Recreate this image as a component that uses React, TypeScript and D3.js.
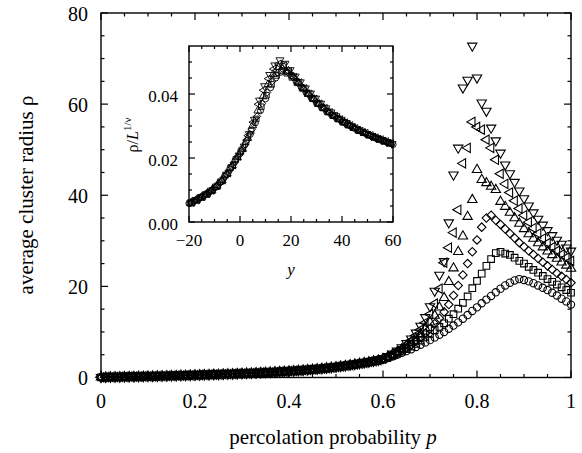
import React from 'react';
import * as d3 from 'd3';

// ---------- data ----------
// main plot: p grid 0.00 .. 1.00 step 0.01
const P_VALUES = d3.range(0, 101).map((i) => i / 100);

// shared low-p part (p = 0.00 .. 0.59), all system sizes coincide
const RHO_LOW = [
  0.05, 0.07, 0.09, 0.11, 0.13, 0.15, 0.17, 0.19, 0.21, 0.23,
  0.25, 0.27, 0.30, 0.32, 0.35, 0.37, 0.40, 0.43, 0.46, 0.49,
  0.52, 0.55, 0.58, 0.61, 0.65, 0.68, 0.72, 0.75, 0.79, 0.83,
  0.87, 0.91, 0.95, 1.00, 1.04, 1.09, 1.14, 1.20, 1.25, 1.31,
  1.38, 1.45, 1.52, 1.60, 1.68, 1.77, 1.86, 1.96, 2.07, 2.19,
  2.32, 2.45, 2.59, 2.74, 2.90, 3.06, 3.23, 3.41, 3.60, 3.80,
];

// p = 0.60 .. 1.00
const RHO_CIRCLE = [
  3.95, 4.25, 4.6, 5.0, 5.4, 5.8, 6.2, 6.7, 7.2, 7.7,
  8.2, 8.8, 9.4, 10.0, 10.7, 11.4, 12.1, 12.9, 13.7, 14.6,
  15.4, 16.3, 17.1, 17.9, 18.7, 19.5, 20.2, 20.8, 21.3, 21.6,
  21.4, 21.1, 20.7, 20.2, 19.7, 19.2, 18.6, 18.0, 17.3, 16.7,
  16.0,
];
const RHO_SQUARE = [
  4.0, 4.35, 4.75, 5.2, 5.7, 6.2, 6.8, 7.4, 8.1, 8.8,
  9.6, 10.4, 11.1, 11.9, 12.9, 13.9, 15.1, 16.4, 17.8, 19.6,
  21.2, 22.8, 24.5, 26.0, 27.3, 27.6, 27.2, 26.9, 26.3, 25.6,
  25.0, 24.3, 23.6, 23.0, 22.3, 21.6, 21.0, 20.4, 19.8, 19.2,
  18.6,
];
const RHO_DIAMOND = [
  4.05, 4.45, 4.9, 5.4, 5.9, 6.5, 7.2, 8.0, 8.8, 9.7,
  10.7, 11.8, 13.0, 14.4, 16.0, 18.0, 20.2, 22.5, 25.0, 27.6,
  30.2, 33.0, 35.0, 35.6, 34.5, 33.6, 32.6, 31.6, 30.6, 29.6,
  28.7, 27.8, 27.0, 26.1, 25.3, 24.5, 23.7, 22.9, 22.2, 21.5,
  20.8,
];
const RHO_UP = [
  4.1, 4.55, 5.05, 5.6, 6.2, 6.9, 7.7, 8.6, 9.6, 10.8,
  12.1, 13.6, 15.4, 17.5, 21.0, 24.0, 27.6, 31.0, 35.3, 39.0,
  45.6, 43.4, 42.7, 41.9, 41.2, 38.6, 37.5, 36.2, 35.0, 33.8,
  32.6, 31.5, 30.5, 29.5, 28.6, 27.7, 26.9, 26.1, 25.3, 24.6,
  23.9,
];
const RHO_LEFT = [
  4.15, 4.6, 5.15, 5.75, 6.4, 7.2, 8.1, 9.2, 10.5, 12.0,
  13.9, 16.2, 19.5, 25.2, 28.5, 31.8, 36.8, 47.0, 50.4, 56.1,
  55.0, 54.4, 52.2, 50.4, 47.8, 44.7, 42.5, 40.6, 38.8, 37.1,
  35.6, 34.1, 32.8, 31.6, 30.5, 29.5, 28.6, 27.8, 27.0, 26.3,
  25.6,
];
const RHO_DOWN = [
  4.2, 4.65, 5.2, 5.85, 6.6, 7.5, 8.5, 9.8, 11.3, 13.2,
  15.6, 19.0, 22.5, 25.5, 34.0, 44.5, 50.4, 63.6, 65.3, 72.8,
  65.8, 60.3, 58.5, 54.8, 52.0, 49.3, 46.7, 44.8, 42.9, 41.0,
  39.3, 37.7, 36.2, 34.8, 33.5, 32.3, 31.2, 30.2, 29.3, 28.5,
  27.8,
];

// inset: scaled variable y (grid step 2 from -20, small per-series offset)
const INSET_OFFSETS = [0, 0.35, 0.7, 1.0, 1.3, 1.65];
const INSET_CIRCLE = [
  0.0058, 0.0066, 0.0074, 0.0083, 0.0094, 0.0107, 0.0123, 0.0143, 0.0166, 0.0190,
  0.0214, 0.0242, 0.0274, 0.0310, 0.0348, 0.0385, 0.0420, 0.0450, 0.0468, 0.0470,
  0.0458, 0.0440, 0.0422, 0.0404, 0.0388, 0.0372, 0.0358, 0.0345, 0.0334, 0.0323,
  0.0313, 0.0304, 0.0295, 0.0287, 0.0280, 0.0273, 0.0266, 0.0260, 0.0254, 0.0248,
  0.0242,
];
const INSET_SQUARE = [
  0.0060, 0.0068, 0.0077, 0.0086, 0.0097, 0.0110, 0.0126, 0.0147, 0.0170, 0.0195,
  0.0220, 0.0250, 0.0284, 0.0322, 0.0360, 0.0396, 0.0430, 0.0458, 0.0472, 0.0465,
  0.0452, 0.0435, 0.0418, 0.0401, 0.0386, 0.0370, 0.0357, 0.0344, 0.0333, 0.0322,
  0.0312, 0.0303, 0.0295, 0.0287, 0.0279, 0.0272, 0.0265, 0.0259, 0.0253, 0.0247,
  0.0241,
];
const INSET_DIAMOND = [
  0.0061, 0.0069, 0.0077, 0.0087, 0.0098, 0.0111, 0.0128, 0.0149, 0.0173, 0.0198,
  0.0223, 0.0254, 0.0290, 0.0330, 0.0370, 0.0405, 0.0440, 0.0466, 0.0478, 0.0468,
  0.0452, 0.0434, 0.0416, 0.0399, 0.0384, 0.0369, 0.0356, 0.0343, 0.0332, 0.0321,
  0.0311, 0.0302, 0.0294, 0.0286, 0.0278, 0.0271, 0.0264, 0.0258, 0.0252, 0.0246,
  0.0240,
];
const INSET_UP = [
  0.0061, 0.0069, 0.0078, 0.0088, 0.0099, 0.0113, 0.0130, 0.0151, 0.0176, 0.0202,
  0.0228, 0.0262, 0.0302, 0.0348, 0.0392, 0.0430, 0.0462, 0.0484, 0.0488, 0.0472,
  0.0454, 0.0436, 0.0417, 0.0400, 0.0384, 0.0369, 0.0355, 0.0343, 0.0331, 0.0321,
  0.0311, 0.0302, 0.0293, 0.0285, 0.0278, 0.0270, 0.0264, 0.0257, 0.0251, 0.0245,
  0.0239,
];
const INSET_LEFT = [
  0.0062, 0.0070, 0.0079, 0.0089, 0.0100, 0.0114, 0.0131, 0.0153, 0.0178, 0.0205,
  0.0232, 0.0270, 0.0312, 0.0368, 0.0412, 0.0448, 0.0478, 0.0494, 0.0488, 0.0470,
  0.0452, 0.0435, 0.0417, 0.0400, 0.0384, 0.0369, 0.0355, 0.0342, 0.0331, 0.0320,
  0.0310, 0.0301, 0.0292, 0.0284, 0.0277, 0.0270, 0.0263, 0.0257, 0.0251, 0.0245,
  0.0239,
];
const INSET_DOWN = [
  0.0062, 0.0070, 0.0080, 0.0090, 0.0101, 0.0115, 0.0133, 0.0155, 0.0180, 0.0208,
  0.0236, 0.0275, 0.0320, 0.0380, 0.0425, 0.0460, 0.0490, 0.0506, 0.0495, 0.0475,
  0.0455, 0.0437, 0.0418, 0.0402, 0.0386, 0.0370, 0.0356, 0.0343, 0.0331, 0.0320,
  0.0310, 0.0300, 0.0291, 0.0283, 0.0276, 0.0269, 0.0262, 0.0256, 0.0250, 0.0244,
  0.0238,
];

const X_TICKS = [0, 0.2, 0.4, 0.6, 0.8, 1];
const X_TICK_LABELS = ['0', '0.2', '0.4', '0.6', '0.8', '1'];
const Y_TICKS = [0, 20, 40, 60, 80];
const Y_TICK_LABELS = ['0', '20', '40', '60', '80'];
const IX_TICKS = [-20, 0, 20, 40, 60];
const IX_TICK_LABELS = ['\u221220', '0', '20', '40', '60'];
const IY_TICKS = [0, 0.02, 0.04];
const IY_TICK_LABELS = ['0.00', '0.02', '0.04'];

type Shape = 'circle' | 'square' | 'diamond' | 'up' | 'left' | 'down';
const SERIES: { shape: Shape; high: number[]; inset: number[] }[] = [
  { shape: 'circle', high: RHO_CIRCLE, inset: INSET_CIRCLE },
  { shape: 'square', high: RHO_SQUARE, inset: INSET_SQUARE },
  { shape: 'diamond', high: RHO_DIAMOND, inset: INSET_DIAMOND },
  { shape: 'up', high: RHO_UP, inset: INSET_UP },
  { shape: 'left', high: RHO_LEFT, inset: INSET_LEFT },
  { shape: 'down', high: RHO_DOWN, inset: INSET_DOWN },
];

const FONT = "'Liberation Serif', 'Times New Roman', serif";

function symbolFor(shape: Shape, k: number) {
  const defs: Record<Shape, [d3.SymbolType, number, number]> = {
    circle: [d3.symbolCircle, 42, 0],
    square: [d3.symbolSquare, 44, 0],
    diamond: [d3.symbolSquare, 36, 45],
    up: [d3.symbolTriangle, 38, 0],
    left: [d3.symbolTriangle, 38, -90],
    down: [d3.symbolTriangle, 38, 180],
  };
  const [type, size, rot] = defs[shape];
  return { d: d3.symbol().type(type).size(size * k)() as string, rot };
}

function Ticks({ xs, ys, x0, x1, y0, y1, xMajor, xMinor, yMajor, yMinor, maj, min }: any) {
  const lines: any[] = [];
  let key = 0;
  const add = (v: number, len: number) => {
    const px = xs(v);
    lines.push(<line key={key++} x1={px} x2={px} y1={y0} y2={y0 - len} />);
    lines.push(<line key={key++} x1={px} x2={px} y1={y1} y2={y1 + len} />);
  };
  const addY = (v: number, len: number) => {
    const py = ys(v);
    lines.push(<line key={key++} x1={x0} x2={x0 + len} y1={py} y2={py} />);
    lines.push(<line key={key++} x1={x1} x2={x1 - len} y1={py} y2={py} />);
  };
  xMajor.forEach((v: number) => add(v, maj));
  xMinor.forEach((v: number) => add(v, min));
  yMajor.forEach((v: number) => addY(v, maj));
  yMinor.forEach((v: number) => addY(v, min));
  return <g stroke="#000" strokeWidth={1.2}>{lines}</g>;
}

export default function App() {
  const x = d3.scaleLinear().domain([0, 1]).range([101, 571]);
  const y = d3.scaleLinear().domain([0, 80]).range([377.5, 13]);
  const ix = d3.scaleLinear().domain([-20, 60]).range([189, 393]);
  const iy = d3.scaleLinear().domain([0, 0.055]).range([222, 46]);

  const isMajor = (v: number, majors: number[]) => majors.some((m) => Math.abs(m - v) < 1e-9);
  const xMinor = d3.range(0, 1.0001, 0.05).filter((v) => !isMajor(v, X_TICKS));
  const yMinor = d3.range(0, 80.001, 5).filter((v) => !isMajor(v, Y_TICKS));
  const ixMinor = d3.range(-20, 60.001, 5).filter((v) => !isMajor(v, IX_TICKS));
  const iyMinor = d3.range(0, 0.0551, 0.005).filter((v) => !isMajor(v, IY_TICKS) && v < 0.0549);

  return (
    <svg width={582} height={453} style={{ position: 'absolute', left: 0, top: 0, background: '#fff' }}
      fontFamily={FONT}>
      <rect x={0} y={0} width={582} height={453} fill="#fff" />
      {/* main markers */}
      <g fill="none" stroke="#000" strokeWidth={1.1}>
        {SERIES.map((s, si) => {
          const sym = symbolFor(s.shape, 1);
          const vals = RHO_LOW.concat(s.high);
          return (
            <g key={si}>
              {P_VALUES.map((p, i) => (
                <path key={i} d={sym.d}
                  transform={`translate(${x(p)},${y(vals[i])}) rotate(${sym.rot})`} />
              ))}
            </g>
          );
        })}
      </g>
      {/* main axes frame */}
      <rect x={101} y={13} width={470} height={364.5} fill="none" stroke="#000" strokeWidth={1.4} />
      <Ticks xs={x} ys={y} x0={101} x1={571} y0={377.5} y1={13}
        xMajor={X_TICKS} xMinor={xMinor} yMajor={Y_TICKS} yMinor={yMinor} maj={7} min={3.5} />
      <g fontSize={20} fill="#000">
        {X_TICKS.map((v, i) => (
          <text key={i} x={x(v)} y={408} textAnchor="middle">{X_TICK_LABELS[i]}</text>
        ))}
        {Y_TICKS.map((v, i) => (
          <text key={i} x={88} y={y(v) + 7.5} textAnchor="end">{Y_TICK_LABELS[i]}</text>
        ))}
      </g>
      <text x={333} y={444} textAnchor="middle" fontSize={21}>
        percolation probability <tspan fontStyle="italic">p</tspan>
      </text>
      <text transform="translate(33,195) rotate(-90)" textAnchor="middle" fontSize={21}>
        average cluster radius ρ
      </text>

      {/* inset */}
      <rect x={189} y={46} width={204} height={176} fill="#fff" stroke="none" />
      <g fill="none" stroke="#000" strokeWidth={0.9}>
        {SERIES.map((s, si) => {
          const sym = symbolFor(s.shape, 0.72);
          return (
            <g key={si}>
              {s.inset.map((v, i) => {
                const yy = -20 + i * 2 + INSET_OFFSETS[si];
                if (yy > 60.3) return null;
                return (
                  <path key={i} d={sym.d}
                    transform={`translate(${ix(yy)},${iy(v)}) rotate(${sym.rot})`} />
                );
              })}
            </g>
          );
        })}
      </g>
      <rect x={189} y={46} width={204} height={176} fill="none" stroke="#000" strokeWidth={1.4} />
      <Ticks xs={ix} ys={iy} x0={189} x1={393} y0={222} y1={46}
        xMajor={IX_TICKS} xMinor={ixMinor} yMajor={IY_TICKS} yMinor={iyMinor} maj={6} min={3} />
      <g fontSize={17} fill="#000">
        {IX_TICKS.map((v, i) => (
          <text key={i} x={ix(v)} y={246} textAnchor="middle">{IX_TICK_LABELS[i]}</text>
        ))}
        {IY_TICKS.map((v, i) => (
          <text key={i} x={178} y={iy(v) + 7.5} textAnchor="end">{IY_TICK_LABELS[i]}</text>
        ))}
      </g>
      <text x={291} y={275} textAnchor="middle" fontSize={17} fontStyle="italic">y</text>
      <text transform="translate(138,135) rotate(-90)" textAnchor="middle" fontSize={16}>
        ρ/<tspan fontStyle="italic">L</tspan>
        <tspan fontSize={11} dy={-7}>1/ν</tspan>
      </text>
    </svg>
  );
}
